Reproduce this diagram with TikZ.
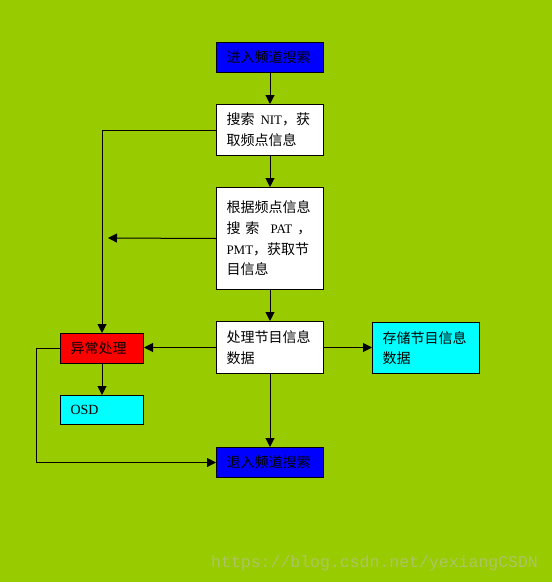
\documentclass[tikz,border=0pt]{standalone}
\usepackage{fontspec}
\setmainfont{Noto Sans CJK SC}
\newfontfamily\latfont{Liberation Serif}
\newfontfamily\wmfont{Liberation Mono}
\usetikzlibrary{arrows.meta}
\definecolor{bg}{RGB}{153,204,0}
\definecolor{bblue}{RGB}{0,0,255}
\definecolor{bred}{RGB}{255,0,0}
\definecolor{bcyan}{RGB}{0,255,255}
\definecolor{wmcol}{RGB}{172,196,100}
\newcommand\lt[1]{{\latfont\fontsize{13}{20.7}\selectfont #1}}
\begin{document}
\begin{tikzpicture}[x=1pt,y=-1pt,
  box/.style={draw=black, line width=1pt, anchor=north west, inner xsep=10pt, inner ysep=0pt,
    align=left, text width=87pt, font=\fontsize{14}{20.7}\selectfont},
  sbox/.style={box, text width=63pt},
  conn/.style={line width=1pt, -{Triangle[length=9pt,width=9pt]}},
  plain/.style={line width=1pt}]
\fill[bg] (0,0) rectangle (552,582);
\node[box, fill=bblue, minimum height=30pt] (top) at (216,42) {进入频道搜索};
\node[box, fill=white, minimum height=51pt] (b2) at (216,104) {搜索\hspace{6pt}\lt{NIT}，获\\取频点信息};
\node[box, fill=white, minimum height=102pt] (b3) at (216,187) {根据频点信息\\\mbox{搜\hspace{5pt}索\hspace{11pt}\lt{PAT}\hspace{5pt}，}\\\lt{PMT}，获取节\\目信息};
\node[box, fill=white, minimum height=52pt] (b4) at (216,321) {处理节目信息\\数据};
\node[box, fill=bcyan, minimum height=51pt] (st) at (372,322) {存储节目信息\\数据};
\node[sbox, fill=bred, minimum height=30pt] (exc) at (60,333) {异常处理};
\node[sbox, fill=bcyan, minimum height=29pt] (osd) at (60,395) {\lt{\fontsize{14}{20}\selectfont OSD}};
\node[box, fill=bblue, minimum height=30pt] (bot) at (216,447) {退入频道搜索};
\coordinate (free) at (108,238);
\coordinate (lc) at (36,348);
\draw[conn] (top.south) -- (b2.north);
\draw[conn] (b2.south) -- (b3.north);
\draw[conn] (b3.south) -- (b4.north);
\draw[conn] (b4.south) -- (bot.north);
\draw[conn] (b2.west) -| (exc.north);
\draw[conn] (b3.west) -- (free);
\draw[conn] (b4.west) -- (b4.west -| exc.east);
\draw[conn] (b4.east) -- (b4.east -| st.west);
\draw[conn] (exc.south) -- (osd.north);
\draw[conn] (exc.west) -- (exc.west -| lc) |- (bot.west);
\node[anchor=west, inner sep=0pt, text=wmcol, font=\wmfont\fontsize{16.5}{18}\selectfont] (wm) at (211,563) {https://blog.csdn.net/yexiangCSDN};
\end{tikzpicture}
\end{document}
